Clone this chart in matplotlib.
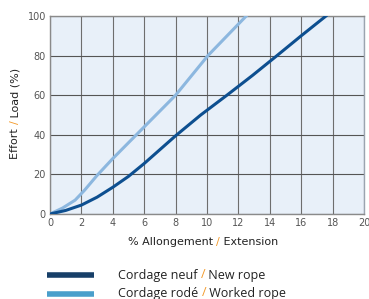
import matplotlib
matplotlib.use("Agg")
import matplotlib.pyplot as plt
from matplotlib.lines import Line2D

# Data
new_ext = [0, 1, 2, 3, 4, 5, 6, 7, 8, 9.6, 11.27, 12.9, 14.46, 16, 17.58]
new_load = [0, 1.8, 4.5, 8.5, 13.5, 19, 25.5, 32.5, 39.5, 50, 60, 70, 80, 90, 100]
worked_ext = [0, 0.8, 1.6, 2.2, 3.0, 4, 5.5, 8, 10.06, 12.5]
worked_load = [0, 3, 7, 12, 19.5, 28, 40, 60, 80, 100]

x_ticks = list(range(0, 21, 2))
y_ticks = list(range(0, 101, 20))

NEW_COLOR = "#0d4f90"
WORKED_COLOR = "#8cb7df"
ORANGE = "#f39a2b"


def colored_text(fig, x, y, parts, rotation=0, **kw):
    """Draw a run of text pieces with different colours, centred on (x, y)."""
    renderer = fig.canvas.get_renderer()
    texts = []
    for s, c in parts:
        t = fig.text(0, 0, s, color=c, rotation=rotation, **kw)
        texts.append(t)
    widths = []
    for t in texts:
        bb = t.get_window_extent(renderer)
        widths.append(bb.height if rotation else bb.width)
    total = sum(widths)
    fw, fh = fig.get_size_inches() * fig.dpi
    if rotation:
        pos = y * fh - total / 2
        for t, w in zip(texts, widths):
            t.set_position((x, pos / fh))
            t.set_ha("center")
            t.set_va("bottom")
            pos += w
    else:
        pos = x * fw - total / 2
        for t, w in zip(texts, widths):
            t.set_position((pos / fw, y))
            t.set_ha("left")
            t.set_va("center")
            pos += w
    return texts


fig = plt.figure(figsize=(3.69, 2.99), dpi=100)
ax = fig.add_axes([0.1355, 0.2843, 0.8509, 0.6622])
ax.set_facecolor("#e8f0f9")

ax.plot(worked_ext, worked_load, color=WORKED_COLOR, lw=2.2, solid_joinstyle="round", zorder=3)
ax.plot(new_ext, new_load, color=NEW_COLOR, lw=2.2, solid_joinstyle="round", zorder=4)

ax.set_xlim(0, 20)
ax.set_ylim(0, 100)
ax.set_xticks(x_ticks)
ax.set_yticks(y_ticks)
ax.grid(True, axis="y", color="#555555", lw=0.8)
ax.grid(True, axis="x", color="#6e6e6e", lw=0.8)
ax.set_axisbelow(True)
ax.tick_params(length=0, labelsize=7, labelcolor="#555555", pad=3)
for sp in ax.spines.values():
    sp.set_color("#8a8a8a")
    sp.set_linewidth(1.0)
ax.spines["right"].set_color("#9aa4b0")

colored_text(fig, 0.55, 1 - 242 / 299,
             [("% Allongement ", "#222222"), ("/", ORANGE), (" Extension", "#222222")],
             fontsize=8)
colored_text(fig, 15 / 369, 1 - 113 / 299,
             [("Effort ", "#222222"), ("/", ORANGE), (" Load (%)", "#222222")],
             rotation=90, fontsize=8)

# legend
fig.add_artist(Line2D([47 / 369, 94 / 369], [1 - 275 / 299] * 2, color="#173f68", lw=4,
                      solid_capstyle="butt"))
fig.add_artist(Line2D([47 / 369, 94 / 369], [1 - 294 / 299] * 2, color="#4a9fcb", lw=4,
                      solid_capstyle="butt"))
renderer = fig.canvas.get_renderer()
for yy, a, b in [(275, "Cordage neuf ", " New rope"), (293, "Cordage rodé ", " Worked rope")]:
    t1 = fig.text(118 / 369, 1 - yy / 299, a, fontsize=9, color="#222222",
                  family="Open Sans", va="center")
    x = t1.get_window_extent(renderer).x1
    t2 = fig.text(x / 369, 1 - yy / 299, "/", fontsize=9, color=ORANGE,
                  family="Open Sans", va="center")
    x = t2.get_window_extent(renderer).x1
    fig.text(x / 369, 1 - yy / 299, b, fontsize=9, color="#222222",
             family="Open Sans", va="center")

fig.savefig("out.png", dpi=100)
